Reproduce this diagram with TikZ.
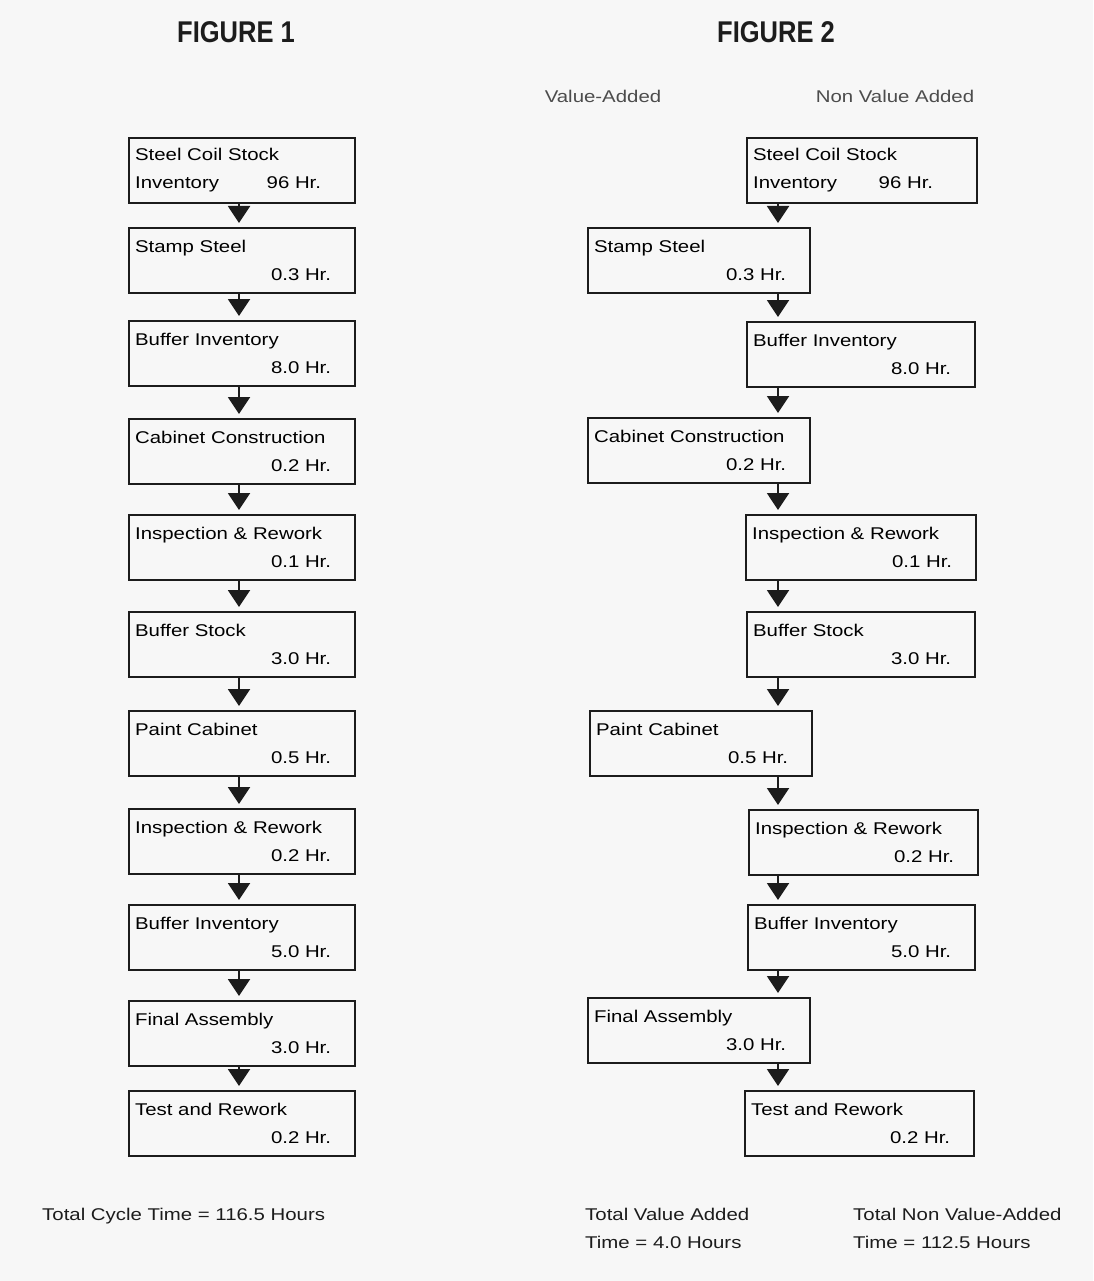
\documentclass[tikz,border=0pt]{standalone}
\usepackage{fontspec}
\setmainfont{Liberation Sans}[FakeStretch=1.2]
\newfontfamily\headfont{Liberation Sans}[FakeStretch=0.85]
\usetikzlibrary{arrows.meta}

\definecolor{paper}{HTML}{F7F7F7}
\definecolor{ink}{HTML}{1C1C1C}

\newcommand*{\boxlines}[2]{\hspace*{6pt}#1\\\mbox{}\hfill #2\rule{24pt}{0pt}}

\begin{document}
\begin{tikzpicture}
[
	x=1pt,
	y=-1pt,
	procbox/.style={draw=ink,line width=2.2pt,anchor=north west,inner xsep=0pt,inner ysep=0pt,
		minimum height=65,align=left,font=\fontsize{17}{28}\selectfont},
	headtext/.style={font=\headfont\bfseries\fontsize{30}{32}\selectfont,ink},
	coltext/.style={font=\fontsize{17}{20}\selectfont,black!70},
	totaltext/.style={font=\fontsize{17}{28}\selectfont,ink,align=left,anchor=north west,inner sep=0pt},
	flow/.style={-{Triangle[length=17pt,width=22pt]},line width=2pt,ink,shorten >=4pt}
]

	% page
	\fill[paper] (0,0) rectangle (1093,1281);

	% titles
	\node[headtext] (fig1) at (236,32) {FIGURE 1};
	\node[headtext] (fig2) at (776,32) {FIGURE 2};
	\node[coltext] (vahead) at (603,96) {Value-Added};
	\node[coltext] (nvahead) at (895,96) {Non Value Added};

	% figure 1 boxes
	\node[procbox,text width=226pt] (l1) at (128,137)
		{\hspace*{6pt}Steel Coil Stock\\\hspace*{6pt}Inventory\hfill 96 Hr.\rule{34pt}{0pt}};
	\foreach \n/\y/\txt/\hr in {
		2/227/Stamp Steel/0.3 Hr.,
		3/320/Buffer Inventory/8.0 Hr.,
		4/418/Cabinet Construction/0.2 Hr.,
		5/514/Inspection \& Rework/0.1 Hr.,
		6/611/Buffer Stock/3.0 Hr.,
		7/710/Paint Cabinet/0.5 Hr.,
		8/808/Inspection \& Rework/0.2 Hr.,
		9/904/Buffer Inventory/5.0 Hr.,
		10/1000/Final Assembly/3.0 Hr.,
		11/1090/Test and Rework/0.2 Hr.} {
		\node[procbox,text width=226pt] (l\n) at (128,\y) {\boxlines{\txt}{\hr}};
	}

	% figure 2 boxes (value added left, non value added right)
	\node[procbox,text width=230pt] (r1) at (746,137)
		{\hspace*{6pt}Steel Coil Stock\\\hspace*{6pt}Inventory\hfill 96 Hr.\rule{44pt}{0pt}};
	\foreach \n/\x/\w/\y/\txt/\hr in {
		2/587/222/227/Stamp Steel/0.3 Hr.,
		3/746/228/321/Buffer Inventory/8.0 Hr.,
		4/587/222/417/Cabinet Construction/0.2 Hr.,
		5/745/230/514/Inspection \& Rework/0.1 Hr.,
		6/746/228/611/Buffer Stock/3.0 Hr.,
		7/589/222/710/Paint Cabinet/0.5 Hr.,
		8/748/229/809/Inspection \& Rework/0.2 Hr.,
		9/747/227/904/Buffer Inventory/5.0 Hr.,
		10/587/222/997/Final Assembly/3.0 Hr.,
		11/744/229/1090/Test and Rework/0.2 Hr.} {
		\node[procbox,text width=\w pt] (r\n) at (\x,\y) {\boxlines{\txt}{\hr}};
	}

	% flow arrows
	\coordinate (lax) at (239,0);
	\coordinate (rax) at (778,0);
	\foreach \a [count=\b from 2] in {1,...,10} {
		\draw[flow] (l\a.south -| lax) -- (l\b.north -| lax);
		\draw[flow] (r\a.south -| rax) -- (r\b.north -| rax);
	}

	% totals
	\node[totaltext] (ltotal) at (42,1208) {Total Cycle Time = 116.5 Hours};
	\node[totaltext] (vatotal) at (585,1208) {Total Value Added\\Time = 4.0 Hours};
	\node[totaltext] (nvatotal) at (853,1208) {Total Non Value-Added\\Time = 112.5 Hours};

\end{tikzpicture}
\end{document}
